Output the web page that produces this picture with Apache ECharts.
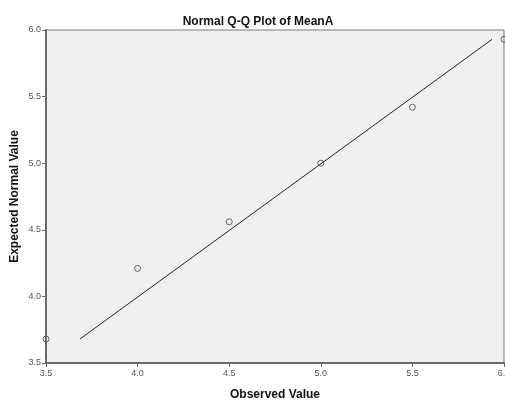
<!DOCTYPE html>
<html><head><meta charset="utf-8">
<script src="https://cdn.jsdelivr.net/npm/echarts@6/dist/echarts.min.js"></script>
<style>html,body{margin:0;padding:0;background:#fff}#c{width:505px;height:401px}</style>
</head><body><div id="c"></div>
<script>
var title = 'Normal Q-Q Plot of MeanA';
var xAxisName = 'Observed Value';
var yAxisName = 'Expected Normal Value';
var observed = [3.5, 4.0, 4.5, 5.0, 5.5, 6.0];
var expected = [3.68, 4.21, 4.56, 5.0, 5.42, 5.93];
var lineX = [3.685, 5.935];
var lineY = [3.68, 5.93];
var axisMin = 3.5, axisMax = 6.0, axisStep = 0.5;

var chart = echarts.init(document.getElementById('c'), null, {renderer: 'canvas'});
var font = 'Liberation Sans, Arial, sans-serif';
chart.setOption({
  animation: false,
  backgroundColor: '#fff',
  title: {text: title, left: 253, top: 11, textAlign: 'center',
    textStyle: {fontFamily: font, fontSize: 12, fontWeight: 'bold', color: '#111'}},
  grid: {left: 46, top: 30, right: 1, bottom: 38, show: true, backgroundColor: '#f0f0f0',
    borderColor: '#7a7a7a', borderWidth: 1, containLabel: false, outerBoundsMode: 'none'},
  xAxis: {type: 'value', min: axisMin, max: axisMax, interval: axisStep,
    name: xAxisName, nameLocation: 'middle', nameGap: 26, nameMoveOverlap: false,
    nameTextStyle: {fontFamily: font, fontSize: 12, fontWeight: 'bold', color: '#111'},
    axisLine: {show: true, onZero: false, lineStyle: {color: '#6a6a6a', width: 2}},
    axisTick: {show: true, length: 4, lineStyle: {color: '#6a6a6a'}},
    axisLabel: {fontFamily: font, fontSize: 9, color: '#555', margin: 6,
      formatter: function(v){return v.toFixed(1);}},
    splitLine: {show: false}},
  yAxis: {type: 'value', min: axisMin, max: axisMax, interval: axisStep,
    name: yAxisName, nameLocation: 'middle', nameGap: 25, nameRotate: 90, nameMoveOverlap: false,
    nameTextStyle: {fontFamily: font, fontSize: 12, fontWeight: 'bold', color: '#111'},
    axisLine: {show: true, onZero: false, lineStyle: {color: '#6a6a6a', width: 2}},
    axisTick: {show: true, length: 4, lineStyle: {color: '#6a6a6a'}},
    axisLabel: {fontFamily: font, fontSize: 9, color: '#555', margin: 5,
      formatter: function(v){return v.toFixed(1);}},
    splitLine: {show: false}},
  series: [
    {type: 'line', data: lineX.map(function(x, i){return [x, lineY[i]];}),
      symbol: 'none', lineStyle: {color: '#222', width: 1}, silent: true},
    {type: 'scatter', data: observed.map(function(x, i){return [x, expected[i]];}),
      symbol: 'circle', symbolSize: 6, clip: false,
      itemStyle: {color: 'rgba(0,0,0,0)', borderColor: '#444', borderWidth: 1}}
  ]
});
</script></body></html>
